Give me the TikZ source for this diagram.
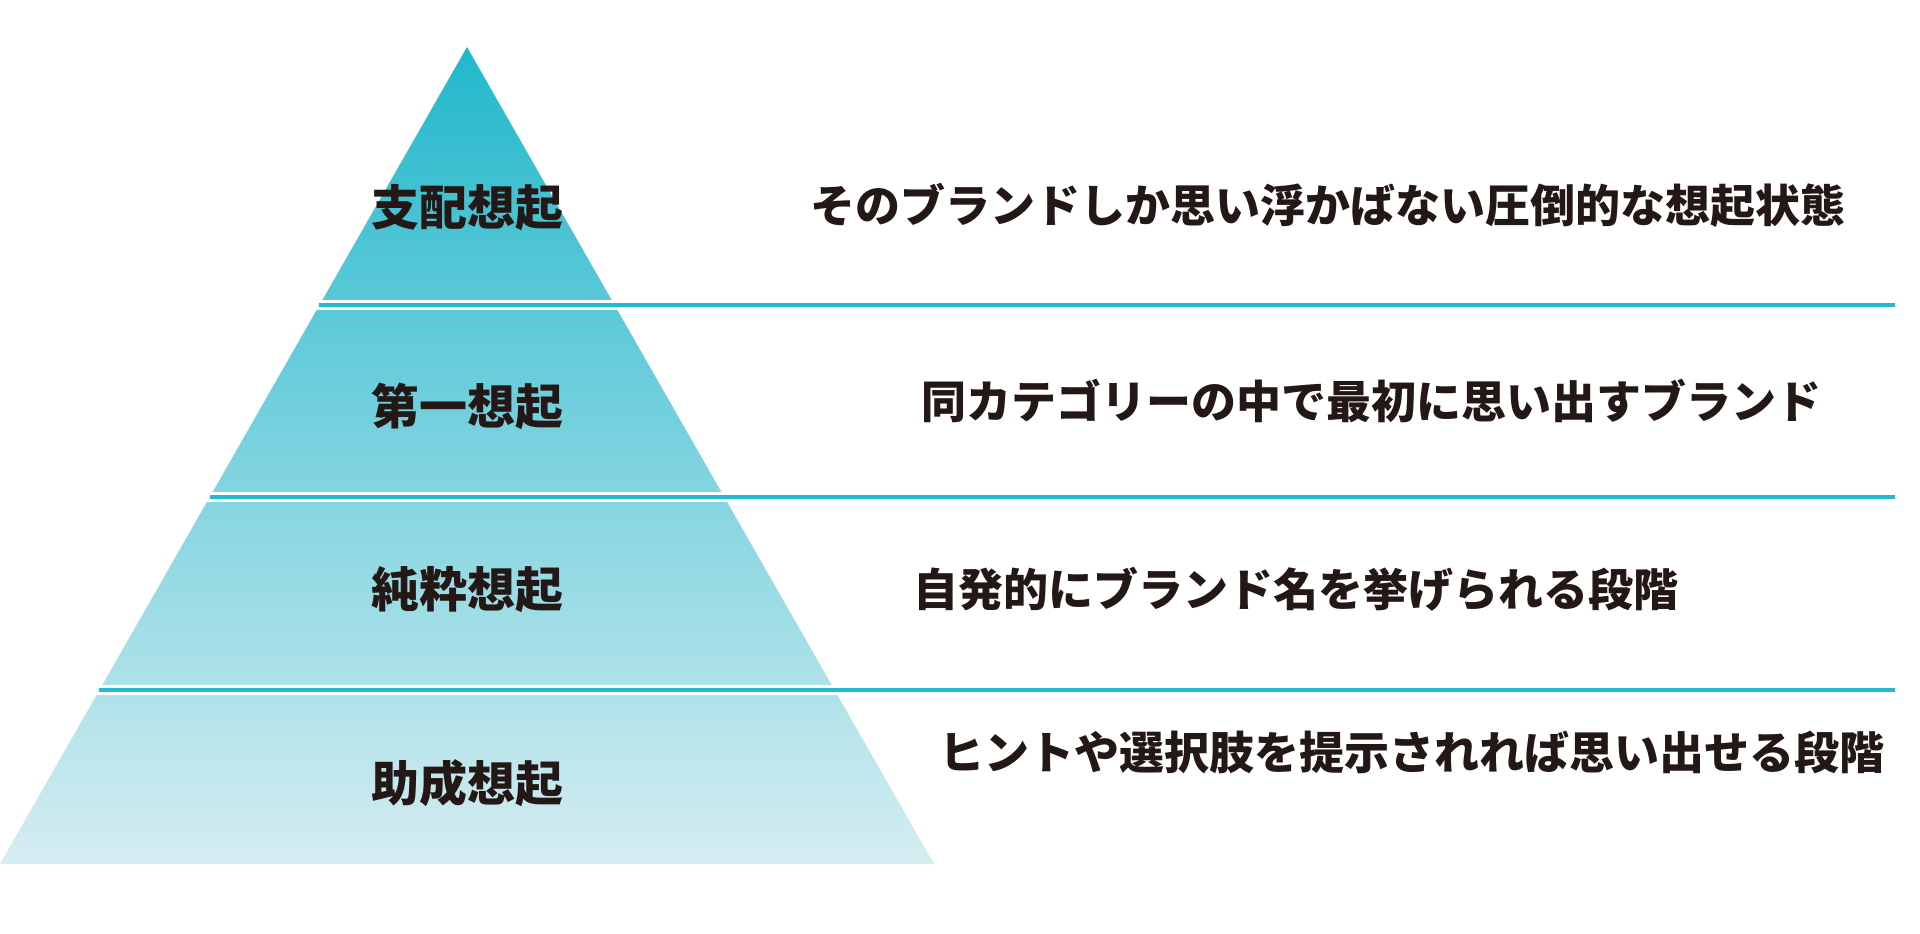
\documentclass[tikz,border=0pt]{standalone}
\usepackage{fontspec}
\newfontfamily\jpfont{Noto Sans CJK JP}
\definecolor{apexcolor}{HTML}{22B8CC}
\definecolor{basecolor}{HTML}{D5EDF1}
\definecolor{rulecolor}{HTML}{22BACD}
\definecolor{inkcolor}{HTML}{231815}

\begin{document}
\begin{tikzpicture}[x=1pt, y=-1pt]
			\tikzset{level/.style={inner sep = 0pt, text = inkcolor, font = \jpfont\bfseries\fontsize{48}{56}\selectfont}}
			\tikzset{note/.style={anchor = west, inner sep = 0pt, text = inkcolor, font = \jpfont\bfseries\fontsize{45}{54}\selectfont}}
			\tikzset{sepline/.style={draw = rulecolor, line width = 4pt}}
			\tikzset{gapband/.style={fill = white}}
			\useasboundingbox (0, 0) rectangle (1920, 934);
			%pyramid
			\coordinate (apex) at (467, 47);
			\coordinate (bl) at (0, 864);
			\coordinate (br) at (934, 864);
			\shade[top color = apexcolor, bottom color = basecolor] (apex) -- (br) -- (bl) -- cycle;
			\fill[gapband] (0, 300) rectangle (960, 310);
			\fill[gapband] (0, 492) rectangle (960, 502);
			\fill[gapband] (0, 685) rectangle (960, 695);
			%rule ends
			\coordinate (r1a) at (319, 305);
			\coordinate (r1b) at (1895, 305);
			\coordinate (r2a) at (210, 497);
			\coordinate (r2b) at (1895, 497);
			\coordinate (r3a) at (99, 690);
			\coordinate (r3b) at (1895, 690);
			%rules
			\path (r1a) edge[sepline] (r1b);
			\path (r2a) edge[sepline] (r2b);
			\path (r3a) edge[sepline] (r3b);
			%levels
			\node[level] (dominant) at (467, 208) {支配想起};
			\node[level] (first) at (467, 406) {第一想起};
			\node[level] (pure) at (467, 590) {純粋想起};
			\node[level] (aided) at (467, 783) {助成想起};
			%notes
			\node[note] (dominantnote) at (810, 205) {そのブランドしか思い浮かばない圧倒的な想起状態};
			\node[note] (firstnote) at (921, 401) {同カテゴリーの中で最初に思い出すブランド};
			\node[note] (purenote) at (913, 589) {自発的にブランド名を挙げられる段階};
			\node[note] (aidednote) at (939, 752) {ヒントや選択肢を提示されれば思い出せる段階};
\end{tikzpicture}
\end{document}
